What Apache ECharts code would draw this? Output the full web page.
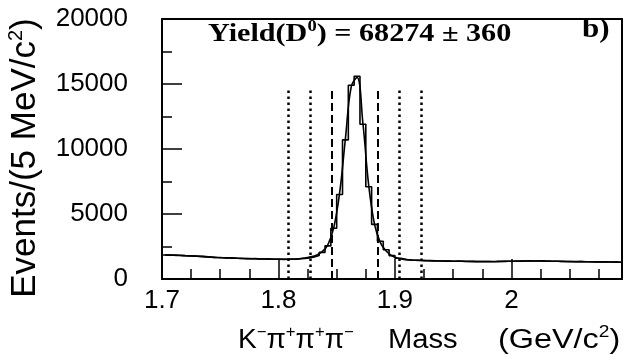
<!DOCTYPE html>
<html>
<head>
<meta charset="utf-8">
<script src="https://cdn.jsdelivr.net/npm/echarts@6/dist/echarts.min.js"></script>
<style>
  html, body { margin: 0; padding: 0; background: #fff; }
  #chart { width: 624px; height: 360px; }
</style>
</head>
<body>
<div id="chart"></div>
<script>
// K- pi+ pi+ pi- invariant mass spectrum, 5 MeV/c^2 bins starting at 1.700 GeV/c^2
const massMin = 1.7;
const massMax = 2.095;
const binWidth = 0.005;

// Events per bin
const counts = [
  1850, 1840, 1830, 1800, 1780, 1760, 1740, 1700, 1660, 1650,
  1620, 1640, 1600, 1580, 1560, 1570, 1540, 1550, 1520, 1530,
  1510, 1520, 1530, 1560, 1600, 1680, 1800, 2050, 2550, 3900,
  6500, 10700, 14900, 15600, 11900, 7100, 4200, 2900, 2250, 1800,
  1600, 1500, 1460, 1440, 1420, 1410, 1400, 1390, 1380, 1370,
  1380, 1360, 1350, 1340, 1350, 1340, 1330, 1350, 1360, 1370,
  1380, 1390, 1400, 1390, 1400, 1380, 1370, 1360, 1350, 1340,
  1330, 1340, 1330, 1320, 1330, 1320, 1310, 1300, 1300
];

// Fitted signal + background, evaluated at bin centres
const fitCurve = [
  1850, 1835, 1820, 1800, 1780, 1760, 1735, 1705, 1675, 1650,
  1630, 1615, 1600, 1585, 1570, 1560, 1550, 1540, 1530, 1525,
  1520, 1525, 1535, 1560, 1610, 1700, 1830, 2100, 2650, 3950,
  6600, 10800, 14800, 15500, 12000, 7200, 4200, 2800, 2150, 1780,
  1600, 1510, 1465, 1440, 1420, 1405, 1395, 1385, 1378, 1372,
  1366, 1360, 1355, 1352, 1350, 1350, 1350, 1352, 1356, 1362,
  1368, 1374, 1380, 1382, 1382, 1378, 1372, 1365, 1358, 1350,
  1343, 1337, 1331, 1326, 1321, 1316, 1311, 1306, 1302
];

// Mass window boundaries (GeV/c^2)
const signalCuts = [1.846, 1.885];
const sidebandCuts = [1.808, 1.827, 1.904, 1.923];
const cutHeight = 14700;

const xTickLabels = ['1.7', '1.8', '1.9', '2'];
const yTickLabels = ['0', '5000', '10000', '15000', '20000'];

const histData = counts.map((v, i) => [massMin + i * binWidth, v]);
histData.push([massMin + counts.length * binWidth, counts[counts.length - 1]]);
const fitData = fitCurve.map((v, i) => [massMin + (i + 0.5) * binWidth, v]);

const cutLines = [];
signalCuts.forEach(x => cutLines.push([
  { coord: [x, 0], lineStyle: { type: [8, 4], width: 2, color: '#000' } },
  { coord: [x, cutHeight] }
]));
sidebandCuts.forEach(x => cutLines.push([
  { coord: [x, 0], lineStyle: { type: [2.5, 3.5], width: 2.5, color: '#000' } },
  { coord: [x, cutHeight] }
]));

const labelFont = 'Liberation Sans, Arial, sans-serif';
const serif = 'Liberation Serif, Times New Roman, serif';
const frameLine = { show: true, onZero: false, lineStyle: { color: '#000', width: 2 } };

// frame-only axis (top / right edges of the box)
function frameAxis(extra) {
  return Object.assign({
    type: 'value', axisLine: frameLine, axisTick: { show: false },
    axisLabel: { show: false }, splitLine: { show: false }
  }, extra);
}

const chart = echarts.init(document.getElementById('chart'), null, { renderer: 'canvas' });
chart.setOption({
  animation: false,
  backgroundColor: '#fff',
  grid: { left: 162, right: 2, top: 19, bottom: 81, containLabel: false, outerBoundsMode: 'none' },
  xAxis: [
    {
      type: 'value', min: massMin, max: massMax, interval: 0.1,
      axisLine: frameLine,
      axisTick: { show: true, inside: true, length: 20, lineStyle: { color: '#000', width: 1.5 } },
      axisLabel: {
        color: '#000', fontFamily: labelFont, fontSize: 26, margin: 9,
        showMaxLabel: false,
        formatter: (v, i) => xTickLabels[i] || ''
      },
      splitLine: { show: false }
    },
    {
      type: 'value', min: massMin, max: massMax, interval: 0.025, position: 'bottom',
      axisLine: { show: false },
      axisTick: { show: true, inside: true, length: 10, lineStyle: { color: '#000', width: 1.5 } },
      axisLabel: { show: false },
      splitLine: { show: false }
    },
    frameAxis({ min: massMin, max: massMax, position: 'top' })
  ],
  yAxis: [
    {
      type: 'value', min: 0, max: 20000, interval: 5000,
      name: 'Events/(5 MeV/c{sup|2})',
      nameLocation: 'middle', nameGap: 117,
      nameTextStyle: {
        color: '#000', fontFamily: labelFont, fontSize: 35, lineHeight: 38,
        padding: [0, 18, 0, 0],
        rich: { sup: { fontSize: 20, lineHeight: 28, verticalAlign: 'top', fontFamily: labelFont, color: '#000' } }
      },
      axisLine: frameLine,
      axisTick: { show: true, inside: true, length: 20, lineStyle: { color: '#000', width: 1.5 } },
      minorTick: { show: true, splitNumber: 2, length: 10, lineStyle: { color: '#000', width: 1.5 } },
      axisLabel: {
        color: '#000', fontFamily: labelFont, fontSize: 26, margin: 34,
        formatter: (v, i) => yTickLabels[i] || ''
      },
      splitLine: { show: false }
    },
    frameAxis({ min: 0, max: 20000, position: 'right' })
  ],
  series: [
    {
      type: 'line', step: 'end', data: histData, xAxisIndex: 0, yAxisIndex: 0,
      symbol: 'none', lineStyle: { color: '#000', width: 1.6 },
      markLine: { silent: true, symbol: 'none', label: { show: false }, data: cutLines }
    },
    {
      type: 'line', smooth: 0.4, data: fitData, xAxisIndex: 0, yAxisIndex: 0,
      symbol: 'none', lineStyle: { color: '#000', width: 1.6 }
    }
  ],
  graphic: [
    {
      type: 'text', left: 208, top: 19, scaleX: 1.16,
      style: {
        text: 'Yield(D{sup|0}) = 68274 ± 360',
        font: 'bold 26px ' + serif, fill: '#000', lineHeight: 30,
        rich: { sup: { font: 'bold 16px ' + serif, fill: '#000', lineHeight: 18, verticalAlign: 'top' } }
      }
    },
    {
      type: 'text', left: 582, top: 17, scaleX: 1.15,
      style: { text: 'b)', font: 'bold 27px ' + serif, fill: '#000' }
    },
    {
      type: 'text', left: 238, top: 325, scaleX: 1.04,
      style: {
        text: 'K{sup|−}π{sup|+}π{sup|+}π{sup|−}',
        font: '27px ' + labelFont, fill: '#000', lineHeight: 32,
        rich: { sup: { font: '16px ' + labelFont, fill: '#000', lineHeight: 20, verticalAlign: 'top' } }
      }
    },
    {
      type: 'text', left: 388, top: 325, scaleX: 1.08,
      style: { text: 'Mass', font: '27px ' + labelFont, fill: '#000', lineHeight: 32 }
    },
    {
      type: 'text', left: 498, top: 325, scaleX: 1.2,
      style: {
        text: '(GeV/c{sup|2})',
        font: '27px ' + labelFont, fill: '#000', lineHeight: 32,
        rich: { sup: { font: '16px ' + labelFont, fill: '#000', lineHeight: 20, verticalAlign: 'top' } }
      }
    }
  ]
});
</script>
</body>
</html>
